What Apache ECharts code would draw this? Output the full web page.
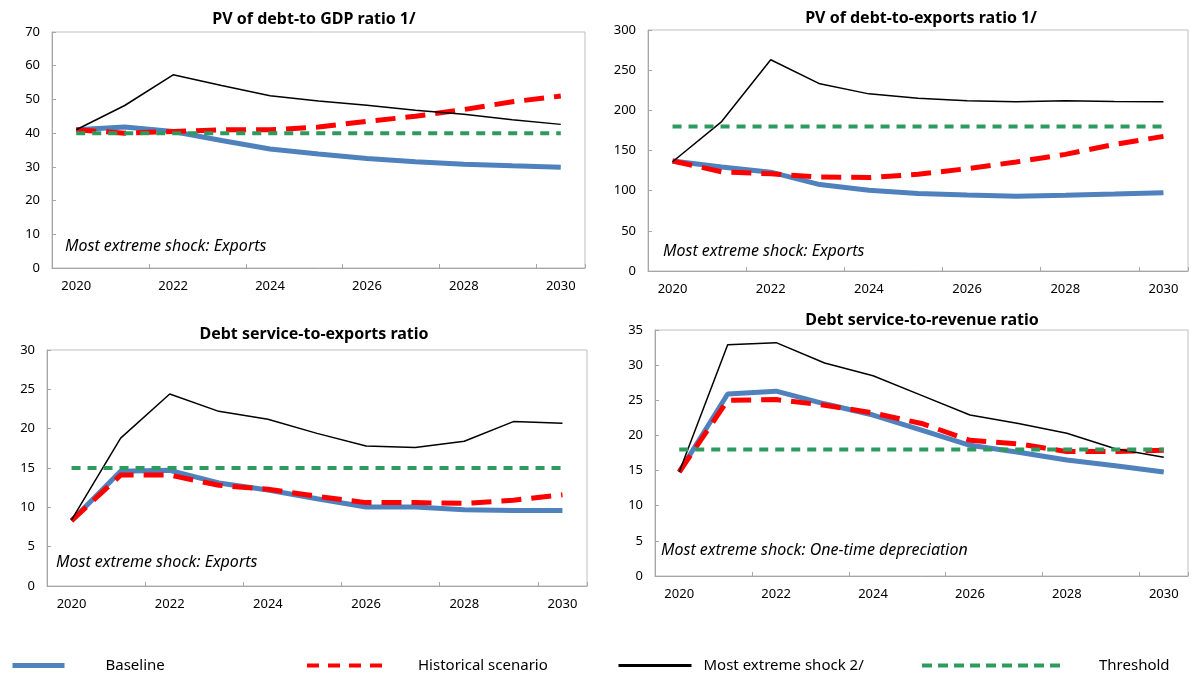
<!DOCTYPE html>
<html>
<head>
<meta charset="utf-8">
<script src="https://cdn.jsdelivr.net/npm/echarts@6/dist/echarts.min.js"></script>
<style>
html,body{margin:0;padding:0;background:#fff;}
#chart{width:1191px;height:675px;}
</style>
</head>
<body>
<div id="chart"></div>
<script>
const years = ['2020','2021','2022','2023','2024','2025','2026','2027','2028','2029','2030'];
const seriesNames = ['Baseline', 'Historical scenario', 'Most extreme shock 2/', 'Threshold'];

// Panel 1: PV of debt-to GDP ratio
const p1Baseline = [41.0, 41.8, 40.5, 37.8, 35.3, 33.8, 32.5, 31.5, 30.8, 30.3, 29.9];
const p1Historical = [41.0, 40.0, 40.5, 41.0, 41.0, 41.8, 43.5, 45.0, 47.0, 49.3, 51.0];
const p1Shock = [41.0, 48.2, 57.3, 54.1, 51.1, 49.5, 48.3, 46.8, 45.6, 44.0, 42.6];
const p1Threshold = [40, 40, 40, 40, 40, 40, 40, 40, 40, 40, 40];

// Panel 2: PV of debt-to-exports ratio
const p2Baseline = [137, 129.5, 123, 107.6, 100.5, 96.6, 94.5, 93.2, 94.3, 95.8, 97.5];
const p2Historical = [137, 123.5, 121, 117, 116.3, 120.4, 127.4, 135.7, 145.2, 157.6, 167.6];
const p2Shock = [136, 186, 263, 233, 220.5, 215, 212, 210.8, 212, 211, 210.8];
const p2Threshold = [180, 180, 180, 180, 180, 180, 180, 180, 180, 180, 180];

// Panel 3: Debt service-to-exports ratio
const p3Baseline = [8.3, 14.6, 14.7, 13.1, 12.2, 11.1, 10.05, 10.05, 9.7, 9.6, 9.6];
const p3Historical = [8.3, 14.1, 14.1, 12.8, 12.3, 11.4, 10.6, 10.6, 10.5, 10.9, 11.6];
const p3Shock = [8.4, 18.8, 24.4, 22.2, 21.2, 19.4, 17.8, 17.6, 18.4, 20.9, 20.7];
const p3Threshold = [15, 15, 15, 15, 15, 15, 15, 15, 15, 15, 15];

// Panel 4: Debt service-to-revenue ratio
const p4Baseline = [14.8, 25.9, 26.3, 24.5, 22.9, 20.75, 18.6, 17.6, 16.5, 15.7, 14.8];
const p4Historical = [14.8, 25.0, 25.1, 24.3, 23.2, 21.7, 19.3, 18.8, 17.7, 17.7, 17.9];
const p4Shock = [14.8, 32.9, 33.2, 30.3, 28.5, 25.7, 22.9, 21.7, 20.3, 18.1, 16.9];
const p4Threshold = [18, 18, 18, 18, 18, 18, 18, 18, 18, 18, 18];

const titles = ['PV of debt-to GDP ratio 1/', 'PV of debt-to-exports ratio 1/', 'Debt service-to-exports ratio', 'Debt service-to-revenue ratio'];
const notes = ['Most extreme shock: Exports', 'Most extreme shock: Exports', 'Most extreme shock: Exports', 'Most extreme shock: One-time depreciation'];
const yMax = [70, 300, 30, 35];
const yStep = [10, 50, 5, 5];
const panelData = [
  [p1Baseline, p1Historical, p1Shock, p1Threshold],
  [p2Baseline, p2Historical, p2Shock, p2Threshold],
  [p3Baseline, p3Historical, p3Shock, p3Threshold],
  [p4Baseline, p4Historical, p4Shock, p4Threshold]
];

const FONT = 'Noto Sans';
const grids = [
  {left: 52, top: 32, width: 533, height: 236},
  {left: 648, top: 30, width: 540, height: 241},
  {left: 47, top: 350, width: 540, height: 236},
  {left: 655, top: 330, width: 533, height: 246}
];
const titlePos = [
  {cx: 309, top: 6},
  {cx: 916, top: 5},
  {cx: 309, top: 321},
  {cx: 917, top: 307}
];
const notePos = [
  {x: 65, y: 249}, {x: 663, y: 254}, {x: 56, y: 565}, {x: 661, y: 553}
];

const styles = [
  {color: '#4f81bd', width: 5, type: 'solid', z: 2},
  {color: '#ff0000', width: 5, type: [20, 10], z: 3},
  {color: '#000000', width: 1.5, type: 'solid', z: 4},
  {color: '#2e9a5e', width: 4, type: [9, 7], z: 5}
];

const option = {
  backgroundColor: '#ffffff',
  animation: false,
  title: titles.map((t, i) => ({
    text: t, left: titlePos[i].cx, top: titlePos[i].top, textAlign: 'center',
    textStyle: {fontFamily: FONT, fontSize: 16, fontWeight: 'bold', color: '#000'}
  })),
  grid: grids.map(g => Object.assign({show: true, borderColor: '#bfbfbf', borderWidth: 1, backgroundColor: 'transparent'}, g)),
  xAxis: grids.map((g, i) => ({
    type: 'category', gridIndex: i, data: years, boundaryGap: true,
    axisLine: {lineStyle: {color: '#a6a6a6', width: 1}},
    axisTick: {show: true, inside: true, interval: 1, length: 4, lineStyle: {color: '#a6a6a6'}},
    axisLabel: {interval: 1, color: '#000', fontFamily: FONT, fontSize: 13, margin: 12},
    splitLine: {show: false}
  })),
  yAxis: grids.map((g, i) => ({
    type: 'value', gridIndex: i, min: 0, max: yMax[i], interval: yStep[i],
    axisLine: {show: true, lineStyle: {color: '#a6a6a6', width: 1}},
    axisTick: {show: true, inside: true, length: 4, lineStyle: {color: '#a6a6a6'}},
    axisLabel: {color: '#000', fontFamily: FONT, fontSize: 13, margin: 12},
    splitLine: {show: false}
  })),
  legend: [
    {left: 10, itemW: 52, pad: 36},
    {left: 305, itemW: 80, pad: 26},
    {left: 617, itemW: 73, pad: 7},
    {left: 920, itemW: 143, pad: 29}
  ].map((l, k) => ({
    data: [seriesNames[k]], left: l.left, top: 658, orient: 'horizontal', padding: 0,
    itemWidth: l.itemW, itemHeight: 14, selectedMode: false,
    itemStyle: {opacity: 0},
    lineStyle: {width: k === 2 ? 3 : (k === 0 ? 5 : 4), opacity: 1, type: k === 1 ? [12, 9] : (k === 3 ? [10, 6] : 'solid')},
    textStyle: {fontFamily: FONT, fontSize: 15, color: '#000', padding: [0, 0, 0, l.pad]}
  })),
  graphic: notes.map((n, i) => ({
    type: 'text', left: notePos[i].x, top: notePos[i].y - 11,
    style: {text: n, font: 'italic 16px "Noto Sans"', fill: '#000'}
  })),
  series: []
};

panelData.forEach((arr, i) => {
  arr.forEach((vals, k) => {
    option.series.push({
      name: seriesNames[k], type: 'line', xAxisIndex: i, yAxisIndex: i,
      data: vals, symbol: 'none', showSymbol: false, z: styles[k].z,
      lineStyle: {color: styles[k].color, width: styles[k].width, type: styles[k].type, cap: 'butt'},
      itemStyle: {color: styles[k].color}
    });
  });
});

const chart = echarts.init(document.getElementById('chart'), null, {renderer: 'canvas'});
chart.setOption(option);
</script>
</body>
</html>
